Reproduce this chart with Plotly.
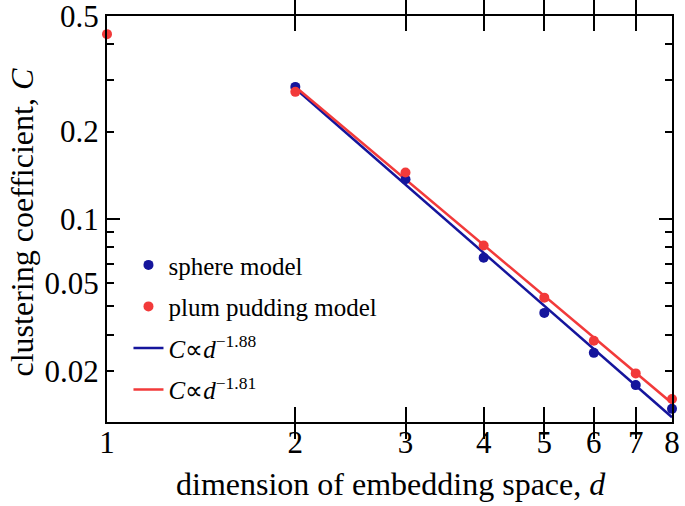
import numpy as np
import plotly.graph_objects as go

# ---- data ----
d_sphere = [2, 3, 4, 5, 6, 7, 8]
C_sphere = [0.285, 0.137, 0.0736, 0.0475, 0.0346, 0.0268, 0.0222]
d_plum = [1, 2, 3, 4, 5, 6, 7, 8]
C_plum = [0.433, 0.274, 0.1445, 0.0811, 0.0536, 0.0381, 0.0294, 0.0240]
exp_sphere = -1.88
exp_plum = -1.81

x_ticks = [1, 2, 3, 4, 5, 6, 7, 8]
# tick marks/labels as drawn in the reference
y_tick_vals = [0.5, 0.2, 0.1, 0.06, 0.03]
y_tick_text = ["0.5", "0.2", "0.1", "0.05", "0.02"]
y_minor_vals = [0.4, 0.3, 0.09, 0.08, 0.07, 0.05, 0.04]

BLUE = "#15159c"
RED = "#f23a3a"
FONT = "Liberation Serif"


def fit_line(d, C, b):
    d = np.asarray(d, float)
    C = np.asarray(C, float)
    m = d >= 2
    a = np.exp(np.mean(np.log(C[m]) - b * np.log(d[m])))
    dd = d[m]
    return dd, a * dd ** b


fx_s, fy_s = fit_line(d_sphere, C_sphere, exp_sphere)
fx_p, fy_p = fit_line(d_plum, C_plum, exp_plum)

fig = go.Figure()
fig.add_trace(go.Scatter(x=fx_s, y=fy_s, mode="lines", line=dict(color=BLUE, width=2.5),
                         name="<i>C</i>∝<i>d</i><sup>−1.88</sup>", legendrank=3, legendgroup="c"))
fig.add_trace(go.Scatter(x=fx_p, y=fy_p, mode="lines", line=dict(color=RED, width=2.5),
                         name="<i>C</i>∝<i>d</i><sup>−1.81</sup>", legendrank=4, legendgroup="d"))
fig.add_trace(go.Scatter(x=d_sphere, y=C_sphere, mode="markers", marker=dict(color=BLUE, size=10),
                         name="sphere model", cliponaxis=False, legendrank=1, legendgroup="a"))
fig.add_trace(go.Scatter(x=d_plum, y=C_plum, mode="markers", marker=dict(color=RED, size=10),
                         name="plum pudding model", cliponaxis=False, legendrank=2, legendgroup="b"))

yr = [np.log10(0.02), np.log10(0.5)]

fig.update_layout(
    width=685, height=506,
    margin=dict(l=107, r=13, t=16, b=84, autoexpand=False),
    paper_bgcolor="white", plot_bgcolor="white",
    font=dict(family=FONT, color="black"),
    showlegend=True,
    legend=dict(x=0.038, y=0.443, xanchor="left", yanchor="top", bgcolor="rgba(0,0,0,0)",
                font=dict(size=25, family=FONT), tracegroupgap=6, itemwidth=30),
    xaxis=dict(type="log", range=[0, np.log10(8)], tickvals=x_ticks, automargin=False,
               ticktext=[str(v) for v in x_ticks], ticks="inside", ticklen=15, tickwidth=2,
               tickcolor="black", showline=True, linecolor="black", linewidth=2,
               mirror="allticks", showgrid=False, zeroline=False, ticklabeloverflow="allow",
               tickfont=dict(size=31, family=FONT), ticklabelstandoff=-8),
    yaxis=dict(type="log", range=yr, tickvals=y_tick_vals, ticktext=y_tick_text, automargin=False,
               ticks="inside", ticklen=7, tickwidth=2, tickcolor="black",
               minor=dict(tickvals=y_minor_vals, ticks="inside", ticklen=7, tickwidth=2, tickcolor="black",
                          showgrid=False),
               showline=True, linecolor="black", linewidth=2, mirror="allticks",
               showgrid=False, zeroline=False, tickfont=dict(size=31, family=FONT),
               ticklabelstandoff=0, ticklabeloverflow="allow"),
    yaxis2=dict(type="log", range=yr, overlaying="y", side="left", tickvals=[0.1], ticktext=[""],
                automargin=False, ticks="inside", ticklen=13, tickwidth=2, tickcolor="black",
                showticklabels=False, showline=False, mirror="allticks", showgrid=False, zeroline=False),
    annotations=[
        dict(text="dimension of embedding space, <i>d</i>", xref="paper", yref="paper",
             x=0.503, y=-0.153, showarrow=False, xanchor="center", yanchor="middle",
             font=dict(size=32, family=FONT)),
        dict(text="clustering coefficient, <i>C</i>", xref="paper", yref="paper",
             x=-0.150, y=0.492, textangle=-90, showarrow=False, xanchor="center", yanchor="middle",
             font=dict(size=32, family=FONT)),
    ],
)
# invisible helper trace so the overlay axis (long 0.1 tick) is drawn
fig.add_trace(go.Scatter(x=[1], y=[0.1], yaxis="y2", mode="markers", marker=dict(opacity=0),
                         showlegend=False, hoverinfo="skip"))

# remove the browser's default 8px page margin so the figure fills the window
fig.write_html("out.html", config={"displayModeBar": False},
               post_script="document.body.style.margin='0';document.body.style.overflow='hidden';")
